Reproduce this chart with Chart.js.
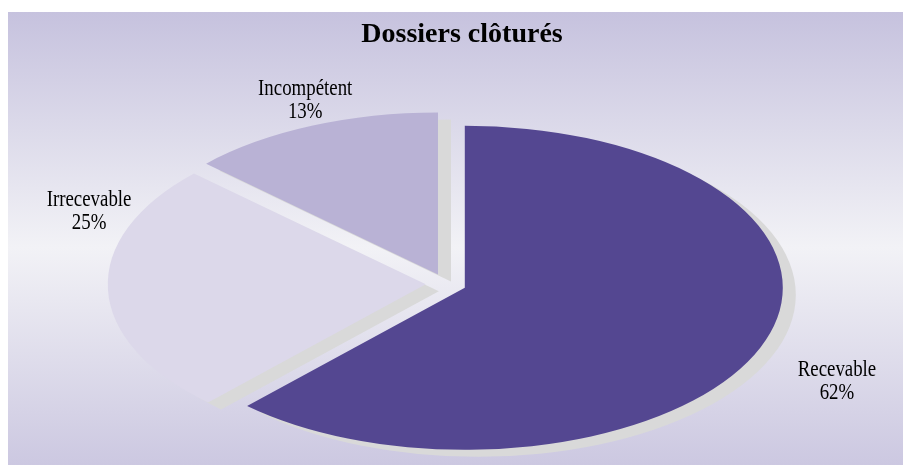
<!DOCTYPE html>
<html>
<head>
<meta charset="utf-8">
<script src="https://cdn.jsdelivr.net/npm/chart.js@4.4.1/dist/chart.umd.min.js"></script>
<style>
  html, body { margin: 0; padding: 0; background: #ffffff; }
  #wrap { width: 905px; height: 465px; }
</style>
</head>
<body>
<div id="wrap"><canvas id="chart" width="905" height="465"></canvas></div>
<script>
// Closed cases by outcome (percent)
const categories = ['Recevable', 'Irrecevable', 'Incompétent'];
const shares = [62, 25, 13];
const sliceColors = ['#544791', '#dcd8ea', '#b9b2d5'];
const chartTitle = 'Dossiers clôturés';

// Label placement per slice: angle shift from the slice middle (degrees) and radial factor
const labelAngleShift = [5.9, 22, 1.4];
const labelRadius = [1.386, 1.196, 1.182];

const ELLIPSE_X = 1.963;     // horizontal stretch of the pie
const EXPLODE = 10.3;        // slice separation, in vertical pixels
const SHADOW = { dx: 13, dy: 7, color: '#d9d9d9' };

function ellipse(ctx, cx, cy) {
  ctx.translate(cx, cy);
  ctx.scale(ELLIPSE_X, 1);
  ctx.translate(-cx, -cy);
}
function explode(ctx, el) {
  const mid = (el.startAngle + el.endAngle) / 2;
  ctx.translate(Math.cos(mid) * EXPLODE, Math.sin(mid) * EXPLODE);
}

const backdrop = {
  id: 'backdrop',
  beforeDraw(chart) {
    const ctx = chart.ctx;
    ctx.save();
    ctx.fillStyle = '#ffffff';
    ctx.fillRect(0, 0, chart.width, chart.height);
    const g = ctx.createLinearGradient(0, 12, 0, 465);
    g.addColorStop(0, '#c6c2de');
    g.addColorStop(0.52, '#f2f2f6');
    g.addColorStop(1, '#ccc8e1');
    ctx.fillStyle = g;
    ctx.fillRect(8, 12, 895, 453);
    ctx.restore();
  }
};

const tiltedPie = {
  id: 'tiltedPie',
  beforeDatasetDraw(chart, args) {
    const ctx = chart.ctx;
    const arcs = args.meta.data;
    if (!arcs.length) return;
    const cx = arcs[0].x, cy = arcs[0].y;
    // flat drop shadows first
    arcs.forEach(el => {
      ctx.save();
      ctx.translate(SHADOW.dx, SHADOW.dy);
      ellipse(ctx, cx, cy);
      explode(ctx, el);
      ctx.beginPath();
      ctx.moveTo(el.x, el.y);
      ctx.arc(el.x, el.y, el.outerRadius, el.startAngle, el.endAngle);
      ctx.closePath();
      ctx.fillStyle = SHADOW.color;
      ctx.fill();
      ctx.restore();
    });
    // slices
    arcs.forEach(el => {
      ctx.save();
      ellipse(ctx, cx, cy);
      explode(ctx, el);
      el.draw(ctx);
      ctx.restore();
    });
    return false;
  },
  afterDraw(chart) {
    const ctx = chart.ctx;
    const arcs = chart.getDatasetMeta(0).data;
    const total = shares.reduce((a, b) => a + b, 0);
    ctx.save();
    ctx.fillStyle = '#000000';
    ctx.textAlign = 'center';
    ctx.textBaseline = 'alphabetic';
    // title
    ctx.font = 'bold 28px "Liberation Serif", "Times New Roman", serif';
    ctx.fillText(chartTitle, 462, 42);
    // slice labels
    ctx.font = '23px "Liberation Serif", "Times New Roman", serif';
    arcs.forEach((el, i) => {
      const mid = (el.startAngle + el.endAngle) / 2 + labelAngleShift[i] * Math.PI / 180;
      const a = el.outerRadius * ELLIPSE_X, b = el.outerRadius;
      const x = el.x + Math.cos(mid) * a * labelRadius[i];
      const y = el.y + Math.sin(mid) * b * labelRadius[i];
      const pct = Math.round(shares[i] / total * 100) + '%';
      ctx.save();
      ctx.translate(x, y);
      ctx.scale(0.82, 1);
      ctx.fillText(categories[i], 0, -11.5);
      ctx.fillText(pct, 0, 11.5);
      ctx.restore();
    });
    ctx.restore();
  }
};

new Chart(document.getElementById('chart'), {
  type: 'pie',
  data: {
    labels: categories,
    datasets: [{
      data: shares,
      backgroundColor: sliceColors,
      borderWidth: 0,
      hoverOffset: 0,
      offset: 0
    }]
  },
  options: {
    responsive: false,
    animation: false,
    events: [],
    layout: { padding: { left: 284, right: 297, top: 122, bottom: 19 } },
    plugins: {
      legend: { display: false },
      title: { display: false },
      tooltip: { enabled: false }
    }
  },
  plugins: [backdrop, tiltedPie]
});
</script>
</body>
</html>
